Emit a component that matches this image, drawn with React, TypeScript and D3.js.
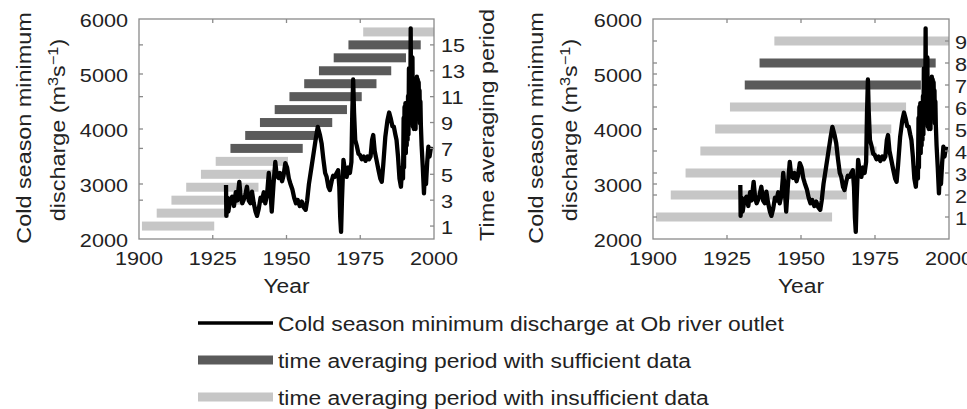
import React from "react";
import * as d3 from "d3";

// ---- data ----
const seriesYears = [
  1929.5, 1929.6, 1929.9, 1930.3, 1930.9, 1931.6, 1932.2, 1932.8, 1933.3, 1934.0,
  1934.5, 1935.0, 1935.5, 1936.0, 1936.6, 1937.2, 1937.8, 1938.3, 1938.9, 1939.5,
  1940.0, 1940.6, 1941.2, 1941.7, 1942.3, 1942.8, 1943.4, 1944.0, 1944.5, 1945.0,
  1945.6, 1946.2, 1946.7, 1947.3, 1947.8, 1948.5, 1949.0, 1949.6, 1950.2, 1950.8,
  1951.3, 1952.0, 1952.6, 1953.2, 1953.8, 1954.5, 1955.2, 1955.8, 1956.5, 1957.0,
  1957.6, 1958.5, 1959.3, 1960.0, 1960.6, 1961.3, 1961.9, 1962.5, 1963.1, 1963.6,
  1964.2, 1964.7, 1965.3, 1965.8, 1966.4, 1967.0, 1967.5, 1967.9, 1968.2, 1968.5,
  1968.8, 1969.3, 1969.8, 1970.4, 1970.9, 1971.5, 1972.0, 1972.3, 1972.6, 1972.9,
  1973.3, 1973.8, 1974.4, 1974.9, 1975.5, 1976.2, 1976.8, 1977.5, 1978.0, 1978.5,
  1979.0, 1979.4, 1979.9, 1980.5, 1981.2, 1981.8, 1982.3, 1982.8, 1983.5, 1984.2,
  1984.8, 1985.3, 1985.9, 1986.4, 1986.9, 1987.3, 1987.8, 1988.3, 1988.8, 1989.2,
  1989.5, 1989.7, 1989.85, 1990.0, 1990.15, 1990.3, 1990.45, 1990.6, 1990.75, 1990.9,
  1991.05, 1991.2, 1991.35, 1991.5, 1991.65, 1991.8, 1991.95, 1992.1, 1992.25, 1992.4,
  1992.55, 1992.7, 1992.85, 1993.0, 1993.15, 1993.3, 1993.45, 1993.6, 1993.75, 1993.9,
  1994.05, 1994.2, 1994.35, 1994.5, 1994.65, 1994.8, 1994.95, 1995.1, 1995.25, 1995.4,
  1995.55, 1995.8, 1996.2, 1996.6, 1996.9, 1997.3, 1997.7, 1998.1, 1998.5, 1999.0,
];
const seriesDischarge = [
  2980, 2420, 2750, 2500, 2710, 2770, 2600, 2850, 2700, 3040,
  2750, 2650, 2710, 2800, 2950, 2700, 2650, 2860, 2650, 2500,
  2420, 2550, 2750, 2700, 2850, 2650, 2800, 3200, 2900, 2500,
  3000, 3400, 3150, 3110, 3200, 3050, 3150, 3380, 3300, 3100,
  3010, 2900, 2750, 2650, 2710, 2600, 2680, 2580, 2530, 2700,
  3000, 3315, 3600, 3850, 4040, 3900, 3740, 3450, 3200, 3130,
  2950, 2890, 3050, 3150, 3130, 3200, 3250, 2950, 2400, 2130,
  2700, 3440, 3250, 3130, 3300, 3200, 3400, 4300, 4900, 4300,
  3800, 3700, 3550, 3530, 3450, 3500, 3420, 3500, 3450, 3500,
  3800, 3890, 3600, 3440, 3250, 3100, 3040, 3350, 3860, 4150,
  4300, 4200, 4050, 4040, 3900, 3800, 3500, 3100, 2950, 3300,
  3100, 4200, 3300, 4400, 3600, 4470, 3560, 4350, 3700, 4300,
  3800, 4600, 3900, 5100, 4100, 4800, 4200, 5830, 4300, 5000,
  4100, 5300, 4040, 4700, 4000, 4800, 4100, 4900, 4000, 4920,
  4300, 4950, 4200, 4900, 4300, 4850, 4400, 4700, 4100, 4500,
  4070, 3700, 3300, 2830, 3200, 3000, 3400, 3680, 3500, 3680,
];

const leftWindowStart = [1901, 1906, 1911, 1916, 1921, 1926, 1931, 1936, 1941, 1946, 1951, 1956, 1961, 1966, 1971, 1976];
const leftWindowEnd = [1925, 1930, 1935, 1940, 1945, 1950, 1955, 1960, 1965, 1970, 1975, 1980, 1985, 1990, 1995, 2000];
const leftSufficient = [false, false, false, false, false, false, true, true, true, true, true, true, true, true, true, false];

const rightWindowStart = [1901, 1906, 1911, 1916, 1921, 1926, 1931, 1936, 1941];
const rightWindowEnd = [1960, 1965, 1970, 1975, 1980, 1985, 1990, 1995, 2000];
const rightSufficient = [false, false, false, false, false, false, true, true, false];

const yearTicks = [1900, 1925, 1950, 1975, 2000];
const dischargeTicks = [2000, 3000, 4000, 5000, 6000];
const leftPeriodTicks = [1, 3, 5, 7, 9, 11, 13, 15];
const rightPeriodTicks = [1, 2, 3, 4, 5, 6, 7, 8, 9];

const legendLabels = [
  "Cold season minimum discharge at Ob river outlet",
  "time averaging period with sufficient data",
  "time averaging period with insufficient data",
];

// ---- styles ----
const FONT = "'Liberation Sans', Arial, Helvetica, sans-serif";
const SX = 1.17;
const TEXT = "#222";
const FRAME = "#8a8a8a";
const LIGHT = "#c6c6c6";
const DARK = "#5a5a5a";

function T({ x, y, size, anchor = "start", rotate = false, children }: any) {
  const tr = rotate
    ? `translate(${x},${y}) rotate(-90) scale(${SX},1)`
    : `translate(${x},${y}) scale(${SX},1)`;
  return (
    <text transform={tr} fontSize={size} fontFamily={FONT} fill={TEXT} textAnchor={anchor}>
      {children}
    </text>
  );
}

function Panel({ x0, x1, starts, ends, suff, periodMax, periodTicks, periodLabelX, leftMirror, ylab1X, ylab2X }: any) {
  const top = 19;
  const bottom = 239;
  const x = d3.scaleLinear().domain([1900, 2000]).range([x0, x1]);
  const y = d3.scaleLinear().domain([2000, 6000]).range([bottom, top]);
  const yp = d3.scaleLinear().domain([0, periodMax]).range([bottom, top]);
  const line = d3
    .line<number>()
    .x((_, i) => x(seriesYears[i]))
    .y((d) => y(d))
    .curve(d3.curveLinear);
  const tl = 4;
  const midX = (x0 + x1) / 2;
  return (
    <g>
      {starts.map((s: number, i: number) => {
        const e = Math.min(ends[i] + 0.5, 2000);
        const cy = yp(i + 1);
        return (
          <rect key={i} x={x(s)} y={cy - 4.5} width={x(e) - x(s)} height={9} fill={suff[i] ? DARK : LIGHT} />
        );
      })}
      <path d={line(seriesDischarge) as string} fill="none" stroke="#000" strokeWidth={4.3} strokeLinejoin="round" />
      <rect x={x0} y={top} width={x1 - x0} height={bottom - top} fill="none" stroke={FRAME} strokeWidth={1.3} />
      {yearTicks.slice(1, -1).map((t) => (
        <g key={t}>
          <line x1={x(t)} x2={x(t)} y1={bottom} y2={bottom - tl} stroke={FRAME} strokeWidth={1.3} />
          <line x1={x(t)} x2={x(t)} y1={top} y2={top + tl} stroke={FRAME} strokeWidth={1.3} />
        </g>
      ))}
      {dischargeTicks.slice(1, -1).map((t) => (
        <line key={t} x1={x0} x2={x0 + tl} y1={y(t)} y2={y(t)} stroke={FRAME} strokeWidth={1.3} />
      ))}
      {periodTicks.map((t: number) => (
        <line key={t} x1={x1} x2={x1 - tl} y1={yp(t)} y2={yp(t)} stroke={FRAME} strokeWidth={1.3} />
      ))}
      {leftMirror.map((t: number) => (
        <line key={"m" + t} x1={x0} x2={x0 + tl} y1={yp(t)} y2={yp(t)} stroke={FRAME} strokeWidth={1.3} />
      ))}
      {yearTicks.map((t) => (
        <T key={t} x={x(t)} y={265} size={18.5} anchor="middle">{t}</T>
      ))}
      {dischargeTicks.map((t) => (
        <T key={t} x={x0 - 11} y={y(t) + 7.5} size={18.5} anchor="end">{t}</T>
      ))}
      {periodTicks.map((t: number) => (
        <T key={t} x={periodLabelX} y={yp(t) + 7.5} size={18.5}>{t}</T>
      ))}
      <T x={midX} y={293} size={19.5} anchor="middle">Year</T>
      <T x={ylab1X} y={128} size={20} anchor="middle" rotate>Cold season minimum</T>
      <T x={ylab2X} y={130} size={20} anchor="middle" rotate>
        discharge (m<tspan dy={-7} fontSize={14}>3</tspan>
        <tspan dy={7}>s</tspan>
        <tspan dy={-7} fontSize={14}>−1</tspan>
        <tspan dy={7}>)</tspan>
      </T>
    </g>
  );
}

export default function App() {
  const legendColors = ["#000", DARK, LIGHT];
  const legendWidths = [3.6, 9, 9];
  const legendY = [323, 360, 397];
  return (
    <svg width={967} height={409} style={{ position: "absolute", left: 0, top: 0, background: "#fff" }}>
      <rect x={0} y={0} width={967} height={409} fill="#fff" />
      <Panel
        x0={139}
        x1={434}
        starts={leftWindowStart}
        ends={leftWindowEnd}
        suff={leftSufficient}
        periodMax={17}
        periodTicks={leftPeriodTicks}
        periodLabelX={441}
        leftMirror={[3, 7, 11, 15]}
        ylab1X={31}
        ylab2X={65}
      />
      <T x={494} y={125} size={20} anchor="middle" rotate>Time averaging period</T>
      <Panel
        x0={653}
        x1={949}
        starts={rightWindowStart}
        ends={rightWindowEnd}
        suff={rightSufficient}
        periodMax={10}
        periodTicks={rightPeriodTicks}
        periodLabelX={955}
        leftMirror={rightPeriodTicks}
        ylab1X={543}
        ylab2X={577}
      />
      {legendLabels.map((lab, i) => (
        <g key={i}>
          <line x1={198} x2={273} y1={legendY[i]} y2={legendY[i]} stroke={legendColors[i]} strokeWidth={legendWidths[i]} />
          <T x={278} y={legendY[i] + 7.5} size={19.5}>{lab}</T>
        </g>
      ))}
    </svg>
  );
}
